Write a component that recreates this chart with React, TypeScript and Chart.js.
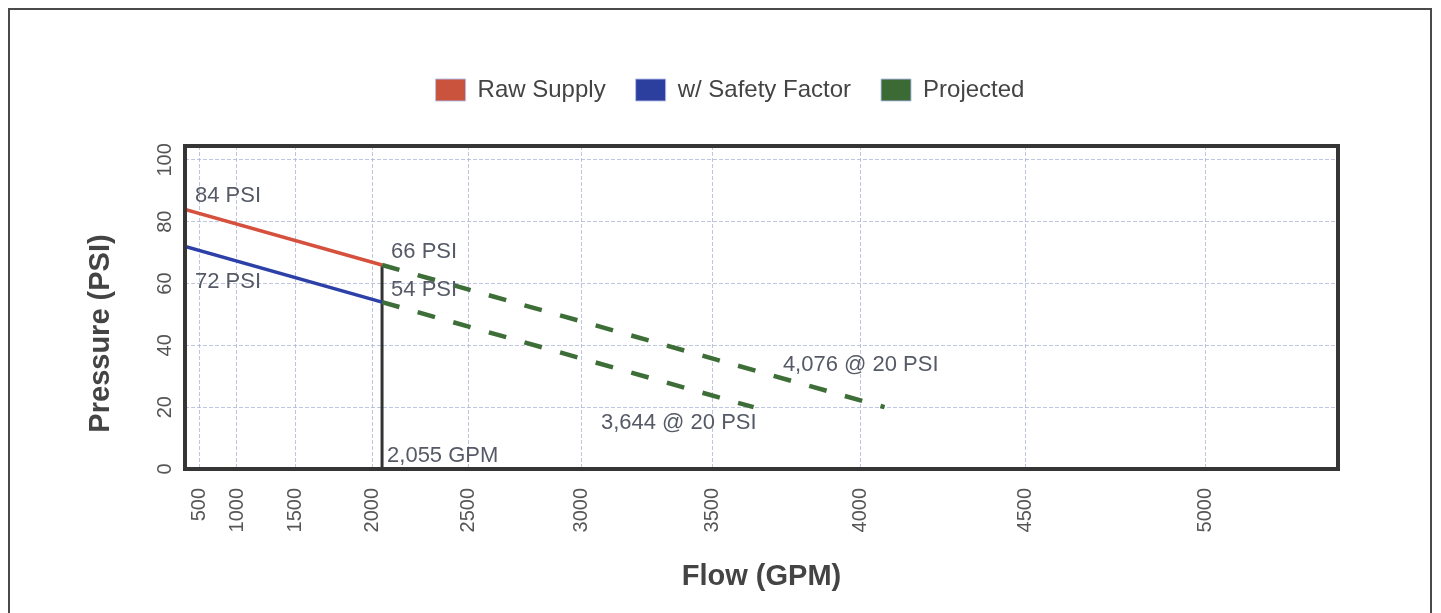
import { useEffect, useRef } from 'react';
import { Chart, registerables, LinearScale } from 'chart.js';

Chart.register(...registerables);

// ---------- data ----------
const SERIES_LABELS = ['Raw Supply', 'w/ Safety Factor', 'Projected'];
const RAW_FLOW = [0, 2055];
const RAW_PSI = [84, 66];
const SAFE_FLOW = [0, 2055];
const SAFE_PSI = [72, 54];
const PROJ_RAW_FLOW = [2055, 4076];
const PROJ_RAW_PSI = [66, 20];
const PROJ_SAFE_FLOW = [2055, 3644];
const PROJ_SAFE_PSI = [54, 20];
const TEST_FLOW = [2055, 2055];
const TEST_PSI = [0, 66];
const X_TICKS = [500, 1000, 1500, 2000, 2500, 3000, 3500, 4000, 4500, 5000];
const Y_TICKS = [0, 20, 40, 60, 80, 100];
const X_MIN = 0;
const X_MAX = 5340;
const Y_MIN = 0;
const Y_MAX = 104.5;
const FLOW_EXPONENT = 1.85; // hydraulic N^1.85 graph paper

const fmt = (n: number) => n.toLocaleString('en-US');
const CALLOUTS = [
  { text: `${RAW_PSI[0]} PSI`, flow: RAW_FLOW[0], psi: RAW_PSI[0] },
  { text: `${SAFE_PSI[0]} PSI`, flow: SAFE_FLOW[0], psi: SAFE_PSI[0] },
  { text: `${RAW_PSI[1]} PSI`, flow: RAW_FLOW[1], psi: RAW_PSI[1] },
  { text: `${SAFE_PSI[1]} PSI`, flow: SAFE_FLOW[1], psi: SAFE_PSI[1] },
  { text: `${fmt(TEST_FLOW[0])} GPM`, flow: TEST_FLOW[0], psi: TEST_PSI[0] },
  { text: `${fmt(PROJ_RAW_FLOW[1])} @ ${PROJ_RAW_PSI[1]} PSI`, flow: PROJ_RAW_FLOW[1], psi: PROJ_RAW_PSI[1] },
  { text: `${fmt(PROJ_SAFE_FLOW[1])} @ ${PROJ_SAFE_PSI[1]} PSI`, flow: PROJ_SAFE_FLOW[1], psi: PROJ_SAFE_PSI[1] },
];

// ---------- styling / layout (not data) ----------
const FONT = "'Liberation Sans', Arial, Helvetica, sans-serif";
const CALLOUT_LAYOUT: [number, number, CanvasTextAlign][] = [
  [10, -13, 'left'],
  [10, 35, 'left'],
  [9, -13, 'left'],
  [9, -12, 'left'],
  [5, -13, 'left'],
  [54, -42, 'right'],
  [3, 16, 'right'],
];
const LAYOUT_TOP = 38;
const CHART_TOP = 136;
const Y_AXIS_WIDTH = 155;
const X_AXIS_HEIGHT = 144;
const RIGHT_GUTTER = 92;

class FlowPowerScale extends LinearScale {
  static id = 'flowPower';
  static defaults = {};
  getPixelForValue(value: number) {
    if (value === null || value === undefined || isNaN(value)) return NaN;
    const lo = Math.pow(this.min, FLOW_EXPONENT);
    const hi = Math.pow(this.max, FLOW_EXPONENT);
    const v = Math.pow(Math.max(0, value), FLOW_EXPONENT);
    return this.getPixelForDecimal((v - lo) / (hi - lo));
  }
  getValueForPixel(pixel: number) {
    const lo = Math.pow(this.min, FLOW_EXPONENT);
    const hi = Math.pow(this.max, FLOW_EXPONENT);
    const v = lo + this.getDecimalForPixel(pixel) * (hi - lo);
    return Math.pow(Math.max(0, v), 1 / FLOW_EXPONENT);
  }
}
Chart.register(FlowPowerScale);

const pts = (xs: number[], ys: number[]) => xs.map((x, i) => ({ x, y: ys[i] }));

const legendSpacer = {
  id: 'legendSpacer',
  beforeInit(chart: any) {
    const legend = chart.legend;
    if (!legend) return;
    const orig = legend.fit;
    legend.fit = function () {
      orig.call(this);
      this.height = CHART_TOP - LAYOUT_TOP;
    };
  },
};

const plotFrame = {
  id: 'plotFrame',
  afterDatasetsDraw(chart: any) {
    const { ctx, chartArea } = chart;
    ctx.save();
    ctx.strokeStyle = '#353535';
    ctx.lineWidth = 4;
    ctx.strokeRect(chartArea.left, chartArea.top, chartArea.right - chartArea.left, chartArea.bottom - chartArea.top);
    ctx.restore();
  },
};

const callouts = {
  id: 'callouts',
  afterDraw(chart: any) {
    const { ctx, scales, chartArea } = chart;
    ctx.save();
    ctx.font = `22px ${FONT}`;
    ctx.fillStyle = '#555a66';
    ctx.textBaseline = 'middle';
    CALLOUTS.forEach((c, i) => {
      const [dx, dy, align] = CALLOUT_LAYOUT[i];
      ctx.textAlign = align;
      ctx.fillText(c.text, scales.x.getPixelForValue(c.flow) + dx, scales.y.getPixelForValue(c.psi) + dy);
    });
    // y-axis title, placed a little below the plot centre as in the original
    ctx.font = `bold 29px ${FONT}`;
    ctx.fillStyle = '#444';
    ctx.textAlign = 'center';
    ctx.translate(91, (chartArea.top + chartArea.bottom) / 2 + 26);
    ctx.rotate(-Math.PI / 2);
    ctx.fillText('Pressure (PSI)', 0, 0);
    ctx.restore();
  },
};

export default function App() {
  const ref = useRef<HTMLCanvasElement>(null);
  useEffect(() => {
    document.documentElement.style.overflow = 'hidden';
    Chart.defaults.font.family = FONT;
    const gridColor = 'rgba(170,178,215,0.75)';
    const chart = new Chart(ref.current as HTMLCanvasElement, {
      type: 'line',
      data: {
        datasets: [
          {
            label: SERIES_LABELS[0],
            data: pts(RAW_FLOW, RAW_PSI),
            borderColor: '#d6503e',
            backgroundColor: '#c9533d',
            borderWidth: 3.5,
            pointRadius: 0,
          },
          {
            label: SERIES_LABELS[1],
            data: pts(SAFE_FLOW, SAFE_PSI),
            borderColor: '#2c40a8',
            backgroundColor: '#2c3f9e',
            borderWidth: 3.5,
            pointRadius: 0,
          },
          {
            label: SERIES_LABELS[2],
            data: pts(PROJ_RAW_FLOW, PROJ_RAW_PSI),
            borderColor: '#3d6e37',
            backgroundColor: '#3c6a35',
            borderWidth: 4.5,
            borderDash: [18, 19],
            pointRadius: 0,
          },
          {
            label: SERIES_LABELS[2] + ' (safety)',
            data: pts(PROJ_SAFE_FLOW, PROJ_SAFE_PSI),
            borderColor: '#3d6e37',
            backgroundColor: '#3c6a35',
            borderWidth: 4.5,
            borderDash: [18, 19],
            pointRadius: 0,
          },
          {
            label: 'Test flow',
            data: pts(TEST_FLOW, TEST_PSI),
            borderColor: '#333333',
            backgroundColor: '#333333',
            borderWidth: 3,
            pointRadius: 0,
          },
        ],
      },
      options: {
        animation: false,
        responsive: true,
        maintainAspectRatio: false,
        layout: { padding: { top: LAYOUT_TOP, left: 20, right: 0, bottom: 0 } },
        plugins: {
          tooltip: { enabled: false },
          legend: {
            position: 'top',
            labels: {
              boxWidth: 30,
              boxHeight: 22,
              padding: 30,
              color: '#444',
              font: { size: 24, family: FONT },
              filter: (item: any) => item.datasetIndex < SERIES_LABELS.length,
              generateLabels: (c: any) =>
                Chart.defaults.plugins.legend.labels.generateLabels(c).map((l: any) => ({
                  ...l,
                  lineWidth: 1,
                  lineDash: [],
                  strokeStyle: 'rgba(180,190,235,0.9)',
                })),
            },
          },
        },
        scales: {
          x: {
            type: 'flowPower' as any,
            min: X_MIN,
            max: X_MAX,
            afterBuildTicks: (s: any) => {
              s.ticks = X_TICKS.map((v) => ({ value: v }));
            },
            afterFit: (s: any) => {
              s.height = X_AXIS_HEIGHT;
            },
            ticks: {
              minRotation: 90,
              maxRotation: 90,
              padding: 19,
              color: '#555',
              font: { size: 20, family: FONT },
              callback: (v: any) => String(v),
            },
            grid: { color: gridColor, lineWidth: 1, drawTicks: false },
            border: { display: false, dash: [4, 2] },
            title: {
              display: true,
              text: 'Flow (GPM)',
              color: '#444',
              font: { size: 29, weight: 'bold', family: FONT },
              padding: { top: 0, bottom: 18.6 },
            },
          },
          y: {
            type: 'linear',
            position: 'left',
            min: Y_MIN,
            max: Y_MAX,
            afterBuildTicks: (s: any) => {
              s.ticks = Y_TICKS.map((v) => ({ value: v }));
            },
            afterFit: (s: any) => {
              s.width = Y_AXIS_WIDTH;
            },
            ticks: {
              minRotation: 90,
              maxRotation: 90,
              crossAlign: 'center',
              padding: 3,
              color: '#555',
              font: { size: 20, family: FONT },
              callback: (v: any) => String(v),
            },
            grid: { color: gridColor, lineWidth: 1, drawTicks: false },
            border: { display: false, dash: [4, 2] },
            title: { display: false },
          },
          yRight: {
            type: 'linear',
            position: 'right',
            display: true,
            ticks: { display: false },
            grid: { display: false, drawTicks: false },
            border: { display: false },
            afterFit: (s: any) => {
              s.width = RIGHT_GUTTER;
            },
          },
        },
      },
      plugins: [legendSpacer, plotFrame, callouts],
    } as any);
    return () => chart.destroy();
  }, []);

  return (
    <div
      style={{
        width: 1420,
        height: 603,
        borderTop: '2px solid #4a4a4a',
        borderLeft: '2px solid #4a4a4a',
        borderRight: '2px solid #4a4a4a',
        background: '#ffffff',
        position: 'relative',
      }}
    >
      <canvas ref={ref} />
    </div>
  );
}
